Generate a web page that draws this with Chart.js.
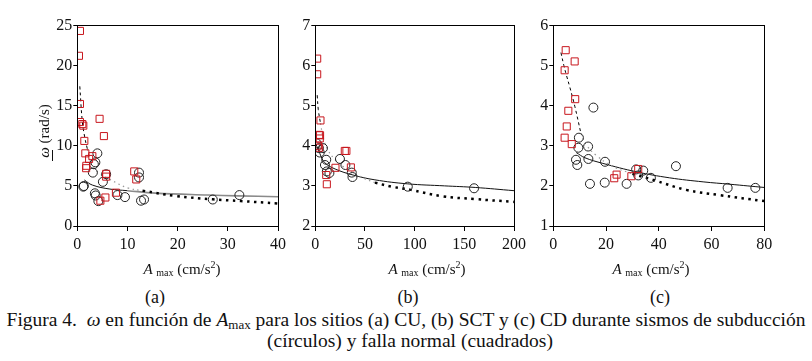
<!DOCTYPE html>
<html>
<head>
<meta charset="utf-8">
<script src="https://cdn.jsdelivr.net/npm/chart.js@4.4.0/dist/chart.umd.min.js"></script>
<style>
  body { margin: 0; background: #fff; width: 812px; height: 361px; position: relative; overflow: hidden;
         font-family: "Times New Roman", "Liberation Serif", Times, "DejaVu Serif", serif; color: #111; }
  canvas { position: absolute; top: 0; }
  .lbl { position: absolute; transform: translate(-50%, -50%); white-space: nowrap; }
  .eje { font-size: 15px; }
  .eje sub { font-size: 10px; vertical-align: -2px; }
  .eje sup { font-size: 10px; vertical-align: 6px; }
  .panel { font-size: 18px; }
  .pie { font-size: 19.5px; left: 406px; }
  .pie sub { font-size: 13px; vertical-align: -3px; }
</style>
</head>
<body>
<canvas id="graficoA"></canvas>
<canvas id="graficoB"></canvas>
<canvas id="graficoC"></canvas>

<div class="lbl eje" style="left:44px; top:131px; transform: translate(-50%,-50%) rotate(-90deg);"><i>ω</i> (rad/s)</div>
<div style="position:absolute; left:52px; top:150px; width:1px; height:11px; background:#111;"></div>

<div class="lbl eje" style="left:182px; top:268px;"><i>A</i> <sub>max</sub> (cm/s<sup>2</sup>)</div>
<div class="lbl eje" style="left:427px; top:268px;"><i>A</i> <sub>max</sub> (cm/s<sup>2</sup>)</div>
<div class="lbl eje" style="left:651px; top:268px;"><i>A</i> <sub>max</sub> (cm/s<sup>2</sup>)</div>

<div class="lbl panel" style="left:155px; top:297px;">(a)</div>
<div class="lbl panel" style="left:408px; top:297px;">(b)</div>
<div class="lbl panel" style="left:660px; top:297px;">(c)</div>

<div class="lbl pie" style="top:321px;">Figura 4.&nbsp; <i>ω</i> en función de <i>A</i><sub>max</sub> para los sitios (a) CU, (b) SCT y (c) CD durante sismos de subducción</div>
<div class="lbl pie" style="top:341px; left:410px;">(círculos) y falla normal (cuadrados)</div>

<script>
// (a) CU
const cuCuadrados = [[0.53,24.3],[0.33,21.2],[0.53,15.2],[0.53,12.95],[1.0,12.7],[1.2,12.5],[1.4,10.6],
  [1.6,9.05],[1.8,7.5],[1.76,7.2],[2.35,8.35],[3.0,8.7],[4.44,13.35],[5.3,11.2],[5.75,6.5],[5.75,6.15],
  [5.6,3.55],[4.6,3.15],[7.7,4.15],[11.35,6.8],[11.75,5.8]];
const cuCirculos = [[1.3,4.98],[1.2,4.9],[4.0,9.05],[3.6,7.93],[3.3,7.7],[3.1,6.65],[5.1,5.5],[5.75,6.45],
  [3.5,4.07],[3.66,3.8],[4.2,3.1],[8.0,3.85],[9.5,3.6],[12.3,6.65],[12.3,6.05],[12.7,3.15],[13.3,3.3],
  [27.0,3.3],[32.3,3.85]];
const cuAjusteCuadrados = [[0.5,17.4],[1,13],[1.5,11],[2,9.6],[2.5,8.3],[3,7.4],[4.5,6.5],[6.5,5.8],
  [10,4.75],[13,4.4],[19.5,3.75],[27,3.32],[32.6,3.11],[40,2.8]];
const cuAjusteCirculos = [[1.4,5.73],[3,5.1],[6.5,4.6],[10,4.4],[15.6,4.1],[26,3.86],[32,3.75],[40,3.65]];

// (b) SCT
const sctCuadrados = [[1.9,6.17],[1.9,5.78],[5.2,4.63],[3.9,4.27],[4.8,4.26],[4.5,4.18],[2.6,4.0],[3.9,3.95],
  [11,3.27],[11.6,3.04],[20.3,3.45],[29.7,3.87],[31.3,3.87],[35.8,3.46]];
const sctCirculos = [[1.3,4.06],[3.6,3.94],[4.5,3.83],[7.7,3.94],[11,3.65],[9.7,3.52],[11.6,3.36],[14.2,3.32],
  [24.8,3.67],[30.3,3.52],[36.7,3.33],[37.4,3.22],[93.1,2.98],[159.8,2.94]];
const sctAjusteCuadrados = [[1.9,5.26],[3,4.9],[5.2,4.56],[8,4.2],[12.6,3.9],[20,3.65],[30,3.45],[48,3.2],
  [60,3.08],[77,2.98],[96,2.9],[128,2.74],[161,2.67],[200,2.6]];
const sctAjusteCirculos = [[0.5,4.05],[4.5,3.81],[9.4,3.58],[20,3.42],[38,3.27],[60,3.15],[93,3.05],
  [130,3.0],[161,2.96],[200,2.88]];

// (c) CD
const cdCuadrados = [[4.7,5.38],[4.3,4.88],[8.1,5.1],[8.3,4.16],[5.7,3.87],[5.1,3.48],[4.3,3.2],[7.0,3.04],
  [23.1,2.19],[24.0,2.28],[29.6,2.24],[32.2,2.42]];
const cdCirculos = [[15.2,3.95],[9.7,3.2],[9.5,2.95],[13.2,2.98],[8.6,2.65],[9.1,2.52],[13.3,2.67],[13.9,2.05],
  [19.5,2.08],[19.6,2.6],[27.8,2.05],[31.4,2.41],[32.2,2.26],[34.1,2.38],[37.0,2.2],[46.5,2.49],[66.1,1.95],[76.6,1.95]];
const cdAjusteCuadrados = [[2.9,5.32],[4,5.0],[5,4.75],[6.3,4.45],[8.2,3.97],[10.5,3.3],[12.5,3.02],[16.5,2.75],
  [22.6,2.48],[30,2.3],[37.8,2.15],[50.4,1.9],[63,1.77],[80,1.62]];
const cdAjusteCirculos = [[8.7,2.83],[12,2.7],[18.8,2.56],[31.5,2.35],[44.1,2.2],[56.8,2.1],[67,2.04],[80,1.96]];

const fuente = { family: '"Times New Roman", "Liberation Serif", Times, serif', size: 16 };

// marco completo alrededor del area del grafico
const marco = {
  id: 'marco',
  afterDraw(chart) {
    const a = chart.chartArea, ctx = chart.ctx;
    ctx.save();
    ctx.strokeStyle = '#000';
    ctx.lineWidth = 1;
    ctx.strokeRect(Math.round(a.left) + 0.5, Math.round(a.top) + 0.5, Math.round(a.right - a.left), Math.round(a.bottom - a.top));
    ctx.restore();
  }
};

function tramo(puntos, desde, hasta) {
  return puntos.filter(p => p[0] >= desde && p[0] <= hasta).map(p => ({ x: p[0], y: p[1] }));
}

function pares(puntos) {
  return puntos.map(p => ({ x: p[0], y: p[1] }));
}

function linea(data, estilo) {
  const base = { data: data, showLine: true, pointRadius: 0, fill: false, tension: 0.4, borderCapStyle: 'butt' };
  if (estilo === 'guion') return Object.assign(base, { borderColor: '#000', borderWidth: 1, borderDash: [3, 3] });
  if (estilo === 'gris') return Object.assign(base, { borderColor: '#999', borderWidth: 1.2, borderDash: [1.5, 3.5] });
  if (estilo === 'punto') return Object.assign(base, { borderColor: '#000', borderWidth: 2.5, borderDash: [2.5, 4.5] });
  if (estilo === 'solidoGris') return Object.assign(base, { borderColor: '#8a8a8a', borderWidth: 1.6 });
  return Object.assign(base, { borderColor: '#111', borderWidth: 1 });
}

function crearGrafico(id, cfg) {
  const canvas = document.getElementById(id);
  canvas.style.left = cfg.left + 'px';
  canvas.width = cfg.width;
  canvas.height = 260;
  canvas.style.width = cfg.width + 'px';
  canvas.style.height = '260px';

  const datasets = [
    { data: pares(cfg.cuadrados), pointStyle: 'rect', pointRadius: 5, borderColor: '#c8161d', borderWidth: 1,
      backgroundColor: 'rgba(0,0,0,0)' },
    { data: pares(cfg.circulos), pointStyle: 'circle', pointRadius: 4.5, borderColor: '#222', borderWidth: 1,
      backgroundColor: 'rgba(0,0,0,0)' }
  ].concat(cfg.lineas);

  return new Chart(canvas, {
    type: 'scatter',
    data: { datasets: datasets },
    options: {
      responsive: false,
      animation: false,
      devicePixelRatio: 1,
      layout: { padding: { top: 25.3, right: cfg.padDer, left: 0, bottom: 0 } },
      plugins: { legend: { display: false }, tooltip: { enabled: false } },
      scales: {
        x: {
          type: 'linear', min: cfg.xMin, max: cfg.xMax,
          ticks: { stepSize: cfg.xPaso, font: fuente, color: '#111', padding: 4, maxRotation: 0 },
          grid: { drawOnChartArea: false, tickLength: 5, color: '#000' },
          border: { color: '#000' },
          afterFit(s) { s.height = 34; }
        },
        y: {
          type: 'linear', min: cfg.yMin, max: cfg.yMax,
          ticks: { stepSize: cfg.yPaso, font: fuente, color: '#111', padding: 1 },
          grid: { drawOnChartArea: false, tickLength: 4, color: '#000' },
          border: { color: '#000' },
          afterFit(s) { s.width = cfg.anchoY; }
        }
      }
    },
    plugins: [marco]
  });
}

function dibujar() {
  crearGrafico('graficoA', {
    left: 0, width: 290, anchoY: 77.3, padDer: 8.3,
    xMin: 0, xMax: 40, xPaso: 10, yMin: 0, yMax: 25, yPaso: 5,
    cuadrados: cuCuadrados, circulos: cuCirculos,
    lineas: [
      linea(tramo(cuAjusteCuadrados, 0, 2), 'guion'),
      linea(tramo(cuAjusteCuadrados, 2, 13), 'gris'),
      linea(tramo(cuAjusteCuadrados, 13, 40), 'punto'),
      linea(tramo(cuAjusteCirculos, 0, 10), 'solido'),
      linea(tramo(cuAjusteCirculos, 10, 40), 'solidoGris')
    ]
  });

  crearGrafico('graficoB', {
    left: 285, width: 245, anchoY: 30.3, padDer: 7.7,
    xMin: 0, xMax: 200, xPaso: 50, yMin: 2, yMax: 7, yPaso: 1,
    cuadrados: sctCuadrados, circulos: sctCirculos,
    lineas: [
      linea(tramo(sctAjusteCuadrados, 0, 5.2), 'guion'),
      linea(tramo(sctAjusteCuadrados, 5.2, 60), 'gris'),
      linea(tramo(sctAjusteCuadrados, 60, 200), 'punto'),
      linea(tramo(sctAjusteCirculos, 0, 200), 'solido')
    ]
  });

  crearGrafico('graficoC', {
    left: 530, width: 282, anchoY: 23.3, padDer: 47.7,
    xMin: 0, xMax: 80, xPaso: 20, yMin: 1, yMax: 6, yPaso: 1,
    cuadrados: cdCuadrados, circulos: cdCirculos,
    lineas: [
      linea(tramo(cdAjusteCuadrados, 0, 10.5), 'guion'),
      linea(tramo(cdAjusteCuadrados, 10.5, 30), 'gris'),
      linea(tramo(cdAjusteCuadrados, 30, 80), 'punto'),
      linea(tramo(cdAjusteCirculos, 0, 80), 'solido')
    ]
  });
}

// esperar a la fuente serif antes de dibujar los lienzos
if (document.fonts && document.fonts.load) {
  document.fonts.load('16px "Times New Roman"').then(dibujar, dibujar);
} else {
  dibujar();
}
</script>
</body>
</html>
